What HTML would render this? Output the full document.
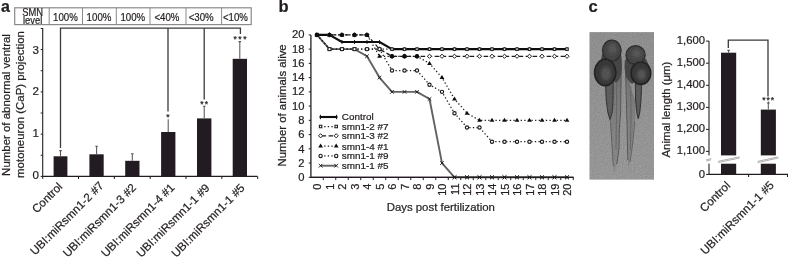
<!DOCTYPE html>
<html lang="en"><head><meta charset="utf-8"><title>Figure</title>
<style>html,body{margin:0;padding:0;background:#fff;}body{width:788px;height:260px;overflow:hidden;}svg{display:block;}text{font-family:"Liberation Sans", Arial, Helvetica, sans-serif;fill:#231f20;stroke:#231f20;stroke-width:0.22px;}</style>
</head><body>
<svg width="788" height="260" viewBox="0 0 788 260">
<defs>
<filter id="b1" x="-20%" y="-20%" width="140%" height="140%"><feGaussianBlur stdDeviation="0.45"/></filter>
<filter id="b2" x="-30%" y="-30%" width="160%" height="160%"><feGaussianBlur stdDeviation="1.6"/></filter>
<filter id="soft" x="-5%" y="-5%" width="110%" height="110%"><feGaussianBlur stdDeviation="0.35"/></filter>
<filter id="noise" x="0" y="0" width="100%" height="100%"><feTurbulence type="fractalNoise" baseFrequency="0.9" numOctaves="2" seed="3" result="n"/><feColorMatrix type="matrix" values="0 0 0 0 0  0 0 0 0 0  0 0 0 0 0  0.5 0.5 0 0 -0.32"/></filter>
<clipPath id="pc"><rect x="589.3" y="32.1" width="64.7" height="147.7"/></clipPath>
<linearGradient id="tg" gradientUnits="userSpaceOnUse" x1="0" y1="58" x2="0" y2="172"><stop offset="0" stop-color="#6e6e6e"/><stop offset="0.3" stop-color="#7e7e7e"/><stop offset="0.6" stop-color="#888"/><stop offset="1" stop-color="#909090"/></linearGradient>
<linearGradient id="pbg" x1="0" y1="0" x2="0" y2="1"><stop offset="0" stop-color="#969696"/><stop offset="1" stop-color="#9f9f9f"/></linearGradient>
</defs>
<rect width="788" height="260" fill="#fff"/>
<g filter="url(#soft)">
<g id="panel-a">
<text x="1.0" y="12.3" font-size="16" font-weight="bold" fill="#000">a</text>
<rect x="14.7" y="7.8" width="236.5" height="16.8" fill="none" stroke="#8a8a8a" stroke-width="1.2"/>
<line x1="49.2" y1="7.8" x2="49.2" y2="24.6" stroke="#8a8a8a" stroke-width="1"/>
<line x1="82.5" y1="7.8" x2="82.5" y2="24.6" stroke="#8a8a8a" stroke-width="1"/>
<line x1="116.3" y1="7.8" x2="116.3" y2="24.6" stroke="#8a8a8a" stroke-width="1"/>
<line x1="150.0" y1="7.8" x2="150.0" y2="24.6" stroke="#8a8a8a" stroke-width="1"/>
<line x1="186.0" y1="7.8" x2="186.0" y2="24.6" stroke="#8a8a8a" stroke-width="1"/>
<line x1="221.6" y1="7.8" x2="221.6" y2="24.6" stroke="#8a8a8a" stroke-width="1"/>
<text transform="translate(32.6 15.9) scale(0.885 1)" font-size="10.6" text-anchor="middle">SMN</text>
<text transform="translate(32.6 24.0) scale(0.885 1)" font-size="10.6" text-anchor="middle">level</text>
<text transform="translate(65.4 20.8) scale(0.88 1)" font-size="11" text-anchor="middle">100%</text>
<text transform="translate(99.0 20.8) scale(0.88 1)" font-size="11" text-anchor="middle">100%</text>
<text transform="translate(132.8 20.8) scale(0.88 1)" font-size="11" text-anchor="middle">100%</text>
<text transform="translate(166.9 20.8) scale(0.88 1)" font-size="11" text-anchor="middle">&lt;40%</text>
<text transform="translate(201.2 20.8) scale(0.88 1)" font-size="11" text-anchor="middle">&lt;30%</text>
<text transform="translate(235.4 20.8) scale(0.88 1)" font-size="11" text-anchor="middle">&lt;10%</text>
<path d="M42.7 28 V176.4 H257.5" fill="none" stroke="#231f20" stroke-width="1.1"/>
<path d="M42.7 176.40 h-2 M42.7 155.27 h-2 M42.7 134.13 h-2 M42.7 113.00 h-2 M42.7 91.86 h-2 M42.7 70.72 h-2 M42.7 49.59 h-2 M42.7 28.45 h-2 M42.70 176.4 v2.6 M78.53 176.4 v2.6 M114.36 176.4 v2.6 M150.19 176.4 v2.6 M186.02 176.4 v2.6 M221.85 176.4 v2.6 M257.68 176.4 v2.6 " fill="none" stroke="#231f20" stroke-width="1"/>
<text x="39" y="178.9" font-size="11.6" text-anchor="end">0</text>
<text x="39" y="137.1" font-size="11.6" text-anchor="end">1</text>
<text x="39" y="95.4" font-size="11.6" text-anchor="end">2</text>
<text x="39" y="53.6" font-size="11.6" text-anchor="end">3</text>
<text transform="translate(9.7 105.0) rotate(-90)" font-size="11.45" text-anchor="middle">Number of abnormal ventral</text>
<text transform="translate(23.5 104.5) rotate(-90)" font-size="11.45" text-anchor="middle">motoneuron (CaP) projection</text>
<rect x="53.6" y="156.3" width="13.8" height="20.1" fill="#231f20"/>
<path d="M60.5 156.3 V150.6 M59.2 150.6 h2.6" fill="none" stroke="#555" stroke-width="1.05"/>
<rect x="89.4" y="154.3" width="14.3" height="22.1" fill="#231f20"/>
<path d="M96.6 154.3 V146.3 M95.3 146.3 h2.6" fill="none" stroke="#555" stroke-width="1.05"/>
<rect x="125.2" y="160.8" width="14.3" height="15.6" fill="#231f20"/>
<path d="M132.3 160.8 V153.8 M131.0 153.8 h2.6" fill="none" stroke="#555" stroke-width="1.05"/>
<rect x="161.1" y="132.0" width="14.3" height="44.4" fill="#231f20"/>
<path d="M168.2 132.0 V119.2" fill="none" stroke="#555" stroke-width="1.05"/>
<rect x="197.0" y="118.4" width="14.4" height="58.0" fill="#231f20"/>
<path d="M204.2 118.4 V106.3 M202.9 106.3 h2.6" fill="none" stroke="#555" stroke-width="1.05"/>
<rect x="232.7" y="58.8" width="14.3" height="117.6" fill="#231f20"/>
<path d="M239.8 58.8 V41.6 M238.5 41.6 h2.6" fill="none" stroke="#555" stroke-width="1.05"/>
<path d="M60.5 148 V28.2 H240.4 V34 M168 28.2 V111.5 M204.2 28.2 V99.5" fill="none" stroke="#3a3a3a" stroke-width="1.3"/>
<text x="168.5" y="119.5" font-size="8.6" text-anchor="middle" letter-spacing="1.1">*</text>
<text x="204.8" y="106.7" font-size="8.6" text-anchor="middle" letter-spacing="1.1">**</text>
<text x="240.8" y="41.7" font-size="8.6" text-anchor="middle" letter-spacing="1.5">***</text>
<text transform="translate(63.1 187.4) rotate(-45)" font-size="11.6" text-anchor="end">Control</text>
<text transform="translate(104.3 186.5) rotate(-45)" font-size="11.6" text-anchor="end">UBI:miRsmn1-2 #7</text>
<text transform="translate(136.9 188.5) rotate(-45)" font-size="11.6" text-anchor="end">UBI:miRsmn1-3 #2</text>
<text transform="translate(175.2 188.4) rotate(-45)" font-size="11.6" text-anchor="end">UBI:miRsmn1-4 #1</text>
<text transform="translate(210.4 188.7) rotate(-45)" font-size="11.6" text-anchor="end">UBI:miRsmn1-1 #9</text>
<text transform="translate(245.4 188.7) rotate(-45)" font-size="11.6" text-anchor="end">UBI:miRsmn1-1 #5</text>
</g>
<g id="panel-b">
<text x="278.4" y="12.2" font-size="16.5" font-weight="bold" fill="#000">b</text>
<path d="M310.9 34.9 V177.3 H573.6" fill="none" stroke="#231f20" stroke-width="1.3"/>
<path d="M310.9 177.30 h-2.2 M310.9 163.06 h-2.2 M310.9 148.82 h-2.2 M310.9 134.58 h-2.2 M310.9 120.34 h-2.2 M310.9 106.10 h-2.2 M310.9 91.86 h-2.2 M310.9 77.62 h-2.2 M310.9 63.38 h-2.2 M310.9 49.14 h-2.2 M310.9 34.90 h-2.2 M323.25 177.3 v2.8 M335.75 177.3 v2.8 M348.25 177.3 v2.8 M360.75 177.3 v2.8 M373.25 177.3 v2.8 M385.75 177.3 v2.8 M398.25 177.3 v2.8 M410.75 177.3 v2.8 M423.25 177.3 v2.8 M435.75 177.3 v2.8 M448.25 177.3 v2.8 M460.75 177.3 v2.8 M473.25 177.3 v2.8 M485.75 177.3 v2.8 M498.25 177.3 v2.8 M510.75 177.3 v2.8 M523.25 177.3 v2.8 M535.75 177.3 v2.8 M548.25 177.3 v2.8 M560.75 177.3 v2.8 M573.25 177.3 v2.8 " fill="none" stroke="#231f20" stroke-width="1"/>
<text x="304.4" y="181.2" font-size="11.2" text-anchor="end">0</text>
<text x="304.4" y="166.9" font-size="11.2" text-anchor="end">2</text>
<text x="304.4" y="152.6" font-size="11.2" text-anchor="end">4</text>
<text x="304.4" y="138.3" font-size="11.2" text-anchor="end">6</text>
<text x="304.4" y="124.0" font-size="11.2" text-anchor="end">8</text>
<text x="304.4" y="109.7" font-size="11.2" text-anchor="end">10</text>
<text x="304.4" y="95.4" font-size="11.2" text-anchor="end">12</text>
<text x="304.4" y="81.1" font-size="11.2" text-anchor="end">14</text>
<text x="304.4" y="66.8" font-size="11.2" text-anchor="end">16</text>
<text x="304.4" y="52.5" font-size="11.2" text-anchor="end">18</text>
<text x="304.4" y="38.2" font-size="11.2" text-anchor="end">20</text>
<text transform="translate(321.3 183.5) rotate(-90)" font-size="11" text-anchor="end">0</text>
<text transform="translate(333.8 183.5) rotate(-90)" font-size="11" text-anchor="end">1</text>
<text transform="translate(346.3 183.5) rotate(-90)" font-size="11" text-anchor="end">2</text>
<text transform="translate(358.8 183.5) rotate(-90)" font-size="11" text-anchor="end">3</text>
<text transform="translate(371.3 183.5) rotate(-90)" font-size="11" text-anchor="end">4</text>
<text transform="translate(383.8 183.5) rotate(-90)" font-size="11" text-anchor="end">5</text>
<text transform="translate(396.3 183.5) rotate(-90)" font-size="11" text-anchor="end">6</text>
<text transform="translate(408.8 183.5) rotate(-90)" font-size="11" text-anchor="end">7</text>
<text transform="translate(421.3 183.5) rotate(-90)" font-size="11" text-anchor="end">8</text>
<text transform="translate(433.8 183.5) rotate(-90)" font-size="11" text-anchor="end">9</text>
<text transform="translate(446.3 183.5) rotate(-90)" font-size="11" text-anchor="end">10</text>
<text transform="translate(458.8 183.5) rotate(-90)" font-size="11" text-anchor="end">11</text>
<text transform="translate(471.3 183.5) rotate(-90)" font-size="11" text-anchor="end">12</text>
<text transform="translate(483.8 183.5) rotate(-90)" font-size="11" text-anchor="end">13</text>
<text transform="translate(496.3 183.5) rotate(-90)" font-size="11" text-anchor="end">14</text>
<text transform="translate(508.8 183.5) rotate(-90)" font-size="11" text-anchor="end">15</text>
<text transform="translate(521.3 183.5) rotate(-90)" font-size="11" text-anchor="end">16</text>
<text transform="translate(533.8 183.5) rotate(-90)" font-size="11" text-anchor="end">17</text>
<text transform="translate(546.3 183.5) rotate(-90)" font-size="11" text-anchor="end">18</text>
<text transform="translate(558.8 183.5) rotate(-90)" font-size="11" text-anchor="end">19</text>
<text transform="translate(571.3 183.5) rotate(-90)" font-size="11" text-anchor="end">20</text>
<text transform="translate(285.6 105.4) rotate(-90)" font-size="11.4" text-anchor="middle">Number of animals alive</text>
<text x="440.8" y="211.4" font-size="11.4" text-anchor="middle">Days post fertilization</text>
<polyline points="317.0,34.9 329.5,49.1 342.0,49.1 354.5,49.1 367.0,56.3 379.5,77.6 392.0,91.9 404.5,91.9 417.0,91.9 429.5,99.0 442.0,163.1 454.5,177.3 467.0,177.3 479.5,177.3 492.0,177.3 504.5,177.3 517.0,177.3 529.5,177.3 542.0,177.3 554.5,177.3 567.0,177.3" fill="none" stroke="#626262" stroke-width="1.9" stroke-linejoin="round"/>
<path d="M315.20 33.10 l3.6 3.6 m-3.6 0 l3.6 -3.6" fill="none" stroke="#1c1c1c" stroke-width="0.95"/>
<path d="M327.70 47.34 l3.6 3.6 m-3.6 0 l3.6 -3.6" fill="none" stroke="#1c1c1c" stroke-width="0.95"/>
<path d="M340.20 47.34 l3.6 3.6 m-3.6 0 l3.6 -3.6" fill="none" stroke="#1c1c1c" stroke-width="0.95"/>
<path d="M352.70 47.34 l3.6 3.6 m-3.6 0 l3.6 -3.6" fill="none" stroke="#1c1c1c" stroke-width="0.95"/>
<path d="M365.20 54.46 l3.6 3.6 m-3.6 0 l3.6 -3.6" fill="none" stroke="#1c1c1c" stroke-width="0.95"/>
<path d="M377.70 75.82 l3.6 3.6 m-3.6 0 l3.6 -3.6" fill="none" stroke="#1c1c1c" stroke-width="0.95"/>
<path d="M390.20 90.06 l3.6 3.6 m-3.6 0 l3.6 -3.6" fill="none" stroke="#1c1c1c" stroke-width="0.95"/>
<path d="M402.70 90.06 l3.6 3.6 m-3.6 0 l3.6 -3.6" fill="none" stroke="#1c1c1c" stroke-width="0.95"/>
<path d="M415.20 90.06 l3.6 3.6 m-3.6 0 l3.6 -3.6" fill="none" stroke="#1c1c1c" stroke-width="0.95"/>
<path d="M427.70 97.18 l3.6 3.6 m-3.6 0 l3.6 -3.6" fill="none" stroke="#1c1c1c" stroke-width="0.95"/>
<path d="M440.20 161.26 l3.6 3.6 m-3.6 0 l3.6 -3.6" fill="none" stroke="#1c1c1c" stroke-width="0.95"/>
<path d="M452.70 175.50 l3.6 3.6 m-3.6 0 l3.6 -3.6" fill="none" stroke="#1c1c1c" stroke-width="0.95"/>
<path d="M465.20 175.50 l3.6 3.6 m-3.6 0 l3.6 -3.6" fill="none" stroke="#1c1c1c" stroke-width="0.95"/>
<path d="M477.70 175.50 l3.6 3.6 m-3.6 0 l3.6 -3.6" fill="none" stroke="#1c1c1c" stroke-width="0.95"/>
<path d="M490.20 175.50 l3.6 3.6 m-3.6 0 l3.6 -3.6" fill="none" stroke="#1c1c1c" stroke-width="0.95"/>
<path d="M502.70 175.50 l3.6 3.6 m-3.6 0 l3.6 -3.6" fill="none" stroke="#1c1c1c" stroke-width="0.95"/>
<path d="M515.20 175.50 l3.6 3.6 m-3.6 0 l3.6 -3.6" fill="none" stroke="#1c1c1c" stroke-width="0.95"/>
<path d="M527.70 175.50 l3.6 3.6 m-3.6 0 l3.6 -3.6" fill="none" stroke="#1c1c1c" stroke-width="0.95"/>
<path d="M540.20 175.50 l3.6 3.6 m-3.6 0 l3.6 -3.6" fill="none" stroke="#1c1c1c" stroke-width="0.95"/>
<path d="M552.70 175.50 l3.6 3.6 m-3.6 0 l3.6 -3.6" fill="none" stroke="#1c1c1c" stroke-width="0.95"/>
<path d="M565.20 175.50 l3.6 3.6 m-3.6 0 l3.6 -3.6" fill="none" stroke="#1c1c1c" stroke-width="0.95"/>
<polyline points="317.0,34.9 329.5,49.1 342.0,49.1 354.5,49.1 367.0,49.1 379.5,49.1 392.0,70.5 404.5,70.5 417.0,70.5 429.5,84.7 442.0,91.9 454.5,113.2 467.0,127.5 479.5,127.5 492.0,141.7 504.5,141.7 517.0,141.7 529.5,141.7 542.0,141.7 554.5,141.7 567.0,141.7" fill="none" stroke="#1c1c1c" stroke-width="1.25" stroke-dasharray="1.3 2.3"/>
<polyline points="317.0,34.9 329.5,34.9 342.0,34.9 354.5,34.9 367.0,34.9 379.5,56.3 392.0,56.3 404.5,56.3 417.0,56.3 429.5,63.4 442.0,77.6 454.5,99.0 467.0,113.2 479.5,120.3 492.0,120.3 504.5,120.3 517.0,120.3 529.5,120.3 542.0,120.3 554.5,120.3 567.0,120.3" fill="none" stroke="#1c1c1c" stroke-width="1.25" stroke-dasharray="1.3 2.3"/>
<polyline points="317.0,34.9 329.5,34.9 342.0,34.9 354.5,34.9 367.0,34.9 379.5,49.1 392.0,56.3 404.5,56.3 417.0,56.3 429.5,56.3 442.0,56.3 454.5,56.3 467.0,56.3 479.5,56.3 492.0,56.3 504.5,56.3 517.0,56.3 529.5,56.3 542.0,56.3 554.5,56.3 567.0,56.3" fill="none" stroke="#1c1c1c" stroke-width="1.2" stroke-dasharray="4.5 2.5"/>
<polyline points="317.0,34.9 329.5,49.1 342.0,49.1 354.5,49.1 367.0,49.1 379.5,49.1 392.0,49.1 404.5,49.1 417.0,49.1 429.5,49.1 442.0,49.1 454.5,49.1 467.0,49.1 479.5,49.1 492.0,49.1 504.5,49.1 517.0,49.1 529.5,49.1 542.0,49.1 554.5,49.1 567.0,49.1" fill="none" stroke="#1c1c1c" stroke-width="1.25" stroke-dasharray="1.3 2.3"/>
<polyline points="317.0,34.9 329.5,34.9 342.0,42.0 354.5,42.0 367.0,42.0 379.5,42.0 392.0,49.1 404.5,49.1 417.0,49.1 429.5,49.1 442.0,49.1 454.5,49.1 467.0,49.1 479.5,49.1 492.0,49.1 504.5,49.1 517.0,49.1 529.5,49.1 542.0,49.1 554.5,49.1 567.0,49.1" fill="none" stroke="#111" stroke-width="2.1" stroke-linejoin="round"/>
<path d="M317.0 32.9 v4 M329.5 32.9 v4 M342.0 40.0 v4 M354.5 40.0 v4 M367.0 40.0 v4 M379.5 40.0 v4 M392.0 47.1 v4 M404.5 47.1 v4 M417.0 47.1 v4 M429.5 47.1 v4 M442.0 47.1 v4 M454.5 47.1 v4 M467.0 47.1 v4 M479.5 47.1 v4 M492.0 47.1 v4 M504.5 47.1 v4 M517.0 47.1 v4 M529.5 47.1 v4 M542.0 47.1 v4 M554.5 47.1 v4 M567.0 47.1 v4 " fill="none" stroke="#111" stroke-width="0.9"/>
<path d="M317.00 32.40 l2.4 4.0 h-4.8z" fill="#111"/>
<path d="M329.50 32.40 l2.4 4.0 h-4.8z" fill="#111"/>
<path d="M342.00 32.40 l2.4 4.0 h-4.8z" fill="#111"/>
<path d="M354.50 32.40 l2.4 4.0 h-4.8z" fill="#111"/>
<path d="M367.00 32.40 l2.4 4.0 h-4.8z" fill="#111"/>
<path d="M379.50 53.76 l2.4 4.0 h-4.8z" fill="#111"/>
<path d="M392.00 53.76 l2.4 4.0 h-4.8z" fill="#111"/>
<path d="M404.50 53.76 l2.4 4.0 h-4.8z" fill="#111"/>
<path d="M417.00 53.76 l2.4 4.0 h-4.8z" fill="#111"/>
<path d="M429.50 60.88 l2.4 4.0 h-4.8z" fill="#111"/>
<path d="M442.00 75.12 l2.4 4.0 h-4.8z" fill="#111"/>
<path d="M454.50 96.48 l2.4 4.0 h-4.8z" fill="#111"/>
<path d="M467.00 110.72 l2.4 4.0 h-4.8z" fill="#111"/>
<path d="M479.50 117.84 l2.4 4.0 h-4.8z" fill="#111"/>
<path d="M492.00 117.84 l2.4 4.0 h-4.8z" fill="#111"/>
<path d="M504.50 117.84 l2.4 4.0 h-4.8z" fill="#111"/>
<path d="M517.00 117.84 l2.4 4.0 h-4.8z" fill="#111"/>
<path d="M529.50 117.84 l2.4 4.0 h-4.8z" fill="#111"/>
<path d="M542.00 117.84 l2.4 4.0 h-4.8z" fill="#111"/>
<path d="M554.50 117.84 l2.4 4.0 h-4.8z" fill="#111"/>
<path d="M567.00 117.84 l2.4 4.0 h-4.8z" fill="#111"/>
<path d="M317.00 32.80 l2.1 2.1 l-2.1 2.1 l-2.1 -2.1z" fill="#fff" stroke="#1c1c1c" stroke-width="1.0"/>
<path d="M329.50 32.80 l2.1 2.1 l-2.1 2.1 l-2.1 -2.1z" fill="#fff" stroke="#1c1c1c" stroke-width="1.0"/>
<path d="M342.00 32.80 l2.1 2.1 l-2.1 2.1 l-2.1 -2.1z" fill="#fff" stroke="#1c1c1c" stroke-width="1.0"/>
<path d="M354.50 32.80 l2.1 2.1 l-2.1 2.1 l-2.1 -2.1z" fill="#fff" stroke="#1c1c1c" stroke-width="1.0"/>
<path d="M367.00 32.80 l2.1 2.1 l-2.1 2.1 l-2.1 -2.1z" fill="#fff" stroke="#1c1c1c" stroke-width="1.0"/>
<path d="M379.50 47.04 l2.1 2.1 l-2.1 2.1 l-2.1 -2.1z" fill="#fff" stroke="#1c1c1c" stroke-width="1.0"/>
<path d="M392.00 54.16 l2.1 2.1 l-2.1 2.1 l-2.1 -2.1z" fill="#fff" stroke="#1c1c1c" stroke-width="1.0"/>
<path d="M404.50 54.16 l2.1 2.1 l-2.1 2.1 l-2.1 -2.1z" fill="#fff" stroke="#1c1c1c" stroke-width="1.0"/>
<path d="M417.00 54.16 l2.1 2.1 l-2.1 2.1 l-2.1 -2.1z" fill="#fff" stroke="#1c1c1c" stroke-width="1.0"/>
<path d="M429.50 54.16 l2.1 2.1 l-2.1 2.1 l-2.1 -2.1z" fill="#fff" stroke="#1c1c1c" stroke-width="1.0"/>
<path d="M442.00 54.16 l2.1 2.1 l-2.1 2.1 l-2.1 -2.1z" fill="#fff" stroke="#1c1c1c" stroke-width="1.0"/>
<path d="M454.50 54.16 l2.1 2.1 l-2.1 2.1 l-2.1 -2.1z" fill="#fff" stroke="#1c1c1c" stroke-width="1.0"/>
<path d="M467.00 54.16 l2.1 2.1 l-2.1 2.1 l-2.1 -2.1z" fill="#fff" stroke="#1c1c1c" stroke-width="1.0"/>
<path d="M479.50 54.16 l2.1 2.1 l-2.1 2.1 l-2.1 -2.1z" fill="#fff" stroke="#1c1c1c" stroke-width="1.0"/>
<path d="M492.00 54.16 l2.1 2.1 l-2.1 2.1 l-2.1 -2.1z" fill="#fff" stroke="#1c1c1c" stroke-width="1.0"/>
<path d="M504.50 54.16 l2.1 2.1 l-2.1 2.1 l-2.1 -2.1z" fill="#fff" stroke="#1c1c1c" stroke-width="1.0"/>
<path d="M517.00 54.16 l2.1 2.1 l-2.1 2.1 l-2.1 -2.1z" fill="#fff" stroke="#1c1c1c" stroke-width="1.0"/>
<path d="M529.50 54.16 l2.1 2.1 l-2.1 2.1 l-2.1 -2.1z" fill="#fff" stroke="#1c1c1c" stroke-width="1.0"/>
<path d="M542.00 54.16 l2.1 2.1 l-2.1 2.1 l-2.1 -2.1z" fill="#fff" stroke="#1c1c1c" stroke-width="1.0"/>
<path d="M554.50 54.16 l2.1 2.1 l-2.1 2.1 l-2.1 -2.1z" fill="#fff" stroke="#1c1c1c" stroke-width="1.0"/>
<path d="M567.00 54.16 l2.1 2.1 l-2.1 2.1 l-2.1 -2.1z" fill="#fff" stroke="#1c1c1c" stroke-width="1.0"/>
<rect x="315.75" y="33.65" width="2.5" height="2.5" fill="#fff" stroke="#1c1c1c" stroke-width="1.05"/>
<rect x="328.25" y="47.89" width="2.5" height="2.5" fill="#fff" stroke="#1c1c1c" stroke-width="1.05"/>
<rect x="340.75" y="47.89" width="2.5" height="2.5" fill="#fff" stroke="#1c1c1c" stroke-width="1.05"/>
<rect x="353.25" y="47.89" width="2.5" height="2.5" fill="#fff" stroke="#1c1c1c" stroke-width="1.05"/>
<rect x="365.75" y="47.89" width="2.5" height="2.5" fill="#fff" stroke="#1c1c1c" stroke-width="1.05"/>
<rect x="378.25" y="47.89" width="2.5" height="2.5" fill="#fff" stroke="#1c1c1c" stroke-width="1.05"/>
<rect x="390.75" y="47.89" width="2.5" height="2.5" fill="#fff" stroke="#1c1c1c" stroke-width="1.05"/>
<rect x="403.25" y="47.89" width="2.5" height="2.5" fill="#fff" stroke="#1c1c1c" stroke-width="1.05"/>
<rect x="415.75" y="47.89" width="2.5" height="2.5" fill="#fff" stroke="#1c1c1c" stroke-width="1.05"/>
<rect x="428.25" y="47.89" width="2.5" height="2.5" fill="#fff" stroke="#1c1c1c" stroke-width="1.05"/>
<rect x="440.75" y="47.89" width="2.5" height="2.5" fill="#fff" stroke="#1c1c1c" stroke-width="1.05"/>
<rect x="453.25" y="47.89" width="2.5" height="2.5" fill="#fff" stroke="#1c1c1c" stroke-width="1.05"/>
<rect x="465.75" y="47.89" width="2.5" height="2.5" fill="#fff" stroke="#1c1c1c" stroke-width="1.05"/>
<rect x="478.25" y="47.89" width="2.5" height="2.5" fill="#fff" stroke="#1c1c1c" stroke-width="1.05"/>
<rect x="490.75" y="47.89" width="2.5" height="2.5" fill="#fff" stroke="#1c1c1c" stroke-width="1.05"/>
<rect x="503.25" y="47.89" width="2.5" height="2.5" fill="#fff" stroke="#1c1c1c" stroke-width="1.05"/>
<rect x="515.75" y="47.89" width="2.5" height="2.5" fill="#fff" stroke="#1c1c1c" stroke-width="1.05"/>
<rect x="528.25" y="47.89" width="2.5" height="2.5" fill="#fff" stroke="#1c1c1c" stroke-width="1.05"/>
<rect x="540.75" y="47.89" width="2.5" height="2.5" fill="#fff" stroke="#1c1c1c" stroke-width="1.05"/>
<rect x="553.25" y="47.89" width="2.5" height="2.5" fill="#fff" stroke="#1c1c1c" stroke-width="1.05"/>
<rect x="565.75" y="47.89" width="2.5" height="2.5" fill="#fff" stroke="#1c1c1c" stroke-width="1.05"/>
<circle cx="317.00" cy="34.90" r="1.65" fill="#fff" stroke="#1c1c1c" stroke-width="1.15"/>
<circle cx="329.50" cy="49.14" r="1.65" fill="#fff" stroke="#1c1c1c" stroke-width="1.15"/>
<circle cx="342.00" cy="49.14" r="1.65" fill="#fff" stroke="#1c1c1c" stroke-width="1.15"/>
<circle cx="354.50" cy="49.14" r="1.65" fill="#fff" stroke="#1c1c1c" stroke-width="1.15"/>
<circle cx="367.00" cy="49.14" r="1.65" fill="#fff" stroke="#1c1c1c" stroke-width="1.15"/>
<circle cx="379.50" cy="49.14" r="1.65" fill="#fff" stroke="#1c1c1c" stroke-width="1.15"/>
<circle cx="392.00" cy="70.50" r="1.65" fill="#fff" stroke="#1c1c1c" stroke-width="1.15"/>
<circle cx="404.50" cy="70.50" r="1.65" fill="#fff" stroke="#1c1c1c" stroke-width="1.15"/>
<circle cx="417.00" cy="70.50" r="1.65" fill="#fff" stroke="#1c1c1c" stroke-width="1.15"/>
<circle cx="429.50" cy="84.74" r="1.65" fill="#fff" stroke="#1c1c1c" stroke-width="1.15"/>
<circle cx="442.00" cy="91.86" r="1.65" fill="#fff" stroke="#1c1c1c" stroke-width="1.15"/>
<circle cx="454.50" cy="113.22" r="1.65" fill="#fff" stroke="#1c1c1c" stroke-width="1.15"/>
<circle cx="467.00" cy="127.46" r="1.65" fill="#fff" stroke="#1c1c1c" stroke-width="1.15"/>
<circle cx="479.50" cy="127.46" r="1.65" fill="#fff" stroke="#1c1c1c" stroke-width="1.15"/>
<circle cx="492.00" cy="141.70" r="1.65" fill="#fff" stroke="#1c1c1c" stroke-width="1.15"/>
<circle cx="504.50" cy="141.70" r="1.65" fill="#fff" stroke="#1c1c1c" stroke-width="1.15"/>
<circle cx="517.00" cy="141.70" r="1.65" fill="#fff" stroke="#1c1c1c" stroke-width="1.15"/>
<circle cx="529.50" cy="141.70" r="1.65" fill="#fff" stroke="#1c1c1c" stroke-width="1.15"/>
<circle cx="542.00" cy="141.70" r="1.65" fill="#fff" stroke="#1c1c1c" stroke-width="1.15"/>
<circle cx="554.50" cy="141.70" r="1.65" fill="#fff" stroke="#1c1c1c" stroke-width="1.15"/>
<circle cx="567.00" cy="141.70" r="1.65" fill="#fff" stroke="#1c1c1c" stroke-width="1.15"/>
<circle cx="317.0" cy="34.9" r="2.2" fill="#111"/>
<circle cx="329.5" cy="34.9" r="2.2" fill="#111"/>
<circle cx="342.0" cy="34.9" r="2.2" fill="#111"/>
<circle cx="354.5" cy="34.9" r="2.2" fill="#111"/>
<circle cx="367.0" cy="34.9" r="2.2" fill="#111"/>
<circle cx="392.0" cy="56.3" r="2.2" fill="#111"/>
<circle cx="404.5" cy="56.3" r="2.2" fill="#111"/>
<circle cx="417.0" cy="56.3" r="2.2" fill="#111"/>
<path d="M310.9 177.3 H573.6" fill="none" stroke="#231f20" stroke-width="1.2"/>
<path d="M452.70 175.50 l3.6 3.6 m-3.6 0 l3.6 -3.6" fill="none" stroke="#1c1c1c" stroke-width="0.95"/>
<path d="M465.20 175.50 l3.6 3.6 m-3.6 0 l3.6 -3.6" fill="none" stroke="#1c1c1c" stroke-width="0.95"/>
<path d="M477.70 175.50 l3.6 3.6 m-3.6 0 l3.6 -3.6" fill="none" stroke="#1c1c1c" stroke-width="0.95"/>
<path d="M490.20 175.50 l3.6 3.6 m-3.6 0 l3.6 -3.6" fill="none" stroke="#1c1c1c" stroke-width="0.95"/>
<path d="M502.70 175.50 l3.6 3.6 m-3.6 0 l3.6 -3.6" fill="none" stroke="#1c1c1c" stroke-width="0.95"/>
<path d="M515.20 175.50 l3.6 3.6 m-3.6 0 l3.6 -3.6" fill="none" stroke="#1c1c1c" stroke-width="0.95"/>
<path d="M527.70 175.50 l3.6 3.6 m-3.6 0 l3.6 -3.6" fill="none" stroke="#1c1c1c" stroke-width="0.95"/>
<path d="M540.20 175.50 l3.6 3.6 m-3.6 0 l3.6 -3.6" fill="none" stroke="#1c1c1c" stroke-width="0.95"/>
<path d="M552.70 175.50 l3.6 3.6 m-3.6 0 l3.6 -3.6" fill="none" stroke="#1c1c1c" stroke-width="0.95"/>
<path d="M565.20 175.50 l3.6 3.6 m-3.6 0 l3.6 -3.6" fill="none" stroke="#1c1c1c" stroke-width="0.95"/>
<text x="341.8" y="119.8" font-size="9.9">Control</text>
<text x="341.8" y="130.0" font-size="9.9">smn1-2 #7</text>
<text x="341.8" y="139.3" font-size="9.9">smn1-3 #2</text>
<text x="341.8" y="149.5" font-size="9.9">smn1-4 #1</text>
<text x="341.8" y="159.4" font-size="9.9">smn1-1 #9</text>
<text x="341.8" y="169.2" font-size="9.9">smn1-1 #5</text>
<path d="M319.6 117.0 H337.4" stroke="#111" stroke-width="2.1"/><path d="M320.4 114.8 v4.4 M336.6 114.8 v4.4" stroke="#111" stroke-width="1"/>
<path d="M320.6 126.5 H336.2" stroke="#1c1c1c" stroke-width="1.25" stroke-dasharray="1.3 2.3"/>
<rect x="319.35" y="125.25" width="2.5" height="2.5" fill="#fff" stroke="#1c1c1c" stroke-width="1.05"/>
<rect x="334.95" y="125.25" width="2.5" height="2.5" fill="#fff" stroke="#1c1c1c" stroke-width="1.05"/>
<path d="M321.6 135.8 H336.2" stroke="#1c1c1c" stroke-width="1.2" stroke-dasharray="4.5 2.5"/>
<path d="M320.60 133.70 l2.1 2.1 l-2.1 2.1 l-2.1 -2.1z" fill="#fff" stroke="#1c1c1c" stroke-width="1.0"/>
<path d="M336.20 133.70 l2.1 2.1 l-2.1 2.1 l-2.1 -2.1z" fill="#fff" stroke="#1c1c1c" stroke-width="1.0"/>
<path d="M320.6 146.0 H336.2" stroke="#1c1c1c" stroke-width="1.25" stroke-dasharray="1.3 2.3"/>
<path d="M320.60 143.50 l2.4 4.0 h-4.8z" fill="#111"/>
<path d="M336.20 143.50 l2.4 4.0 h-4.8z" fill="#111"/>
<path d="M320.6 155.9 H336.2" stroke="#1c1c1c" stroke-width="1.25" stroke-dasharray="1.3 2.3"/>
<circle cx="320.60" cy="155.90" r="1.65" fill="#fff" stroke="#1c1c1c" stroke-width="1.15"/>
<circle cx="336.20" cy="155.90" r="1.65" fill="#fff" stroke="#1c1c1c" stroke-width="1.15"/>
<path d="M320.6 165.7 H336.2" stroke="#626262" stroke-width="1.9"/>
<path d="M318.80 163.90 l3.6 3.6 m-3.6 0 l3.6 -3.6" fill="none" stroke="#1c1c1c" stroke-width="0.95"/>
<path d="M334.40 163.90 l3.6 3.6 m-3.6 0 l3.6 -3.6" fill="none" stroke="#1c1c1c" stroke-width="0.95"/>
</g>
<g id="panel-c">
<text x="588.5" y="12.2" font-size="16.5" font-weight="bold" fill="#000">c</text>
<g clip-path="url(#pc)">
<rect x="589.3" y="32.1" width="64.7" height="147.7" fill="url(#pbg)"/>
<g filter="url(#b1)">
<path d="M616 58 L621.8 58 L621.2 90 L620.6 112 L619.3 130 L619 148 L616.5 165 L614.6 172 L613.6 172 L612.6 160 L612 148 L610.4 128 L609.5 118 L613.4 104 L613.4 86Z" fill="url(#tg)"/>
<path d="M624.4 60 L630 60 L630.4 88 L635.2 100 L635.4 118 L633.7 130 L632 148 L629.6 163 L628.9 166.5 L628 166.5 L627.8 148 L627.3 128 L627 100 L626.4 88Z" fill="url(#tg)"/>
<path d="M621.2 66 L620.6 112 L619.3 130 L619 148 L616.8 164" fill="none" stroke="#5c5c5c" stroke-width="1"/>
<path d="M610.6 122 L612.2 148 L613.4 166" fill="none" stroke="#646464" stroke-width="0.9"/>
<path d="M616.6 84 L616.4 120 L616 150" fill="none" stroke="#6a6a6a" stroke-width="0.9"/>
<path d="M625.4 66 L627.1 128 L627.8 160" fill="none" stroke="#5c5c5c" stroke-width="1"/>
<path d="M634.8 122 L632.4 146 L630 162" fill="none" stroke="#646464" stroke-width="0.9"/>
<path d="M630.8 86 L631 120 L630.4 150" fill="none" stroke="#6a6a6a" stroke-width="0.9"/>
<path d="M605.6 82 L613.2 82 L613 104 L612 113 L610 119.5 L608 113 L606.2 100Z" fill="#626262" stroke="#3a3a3a" stroke-width="1.1"/>
<path d="M635.4 82 L641.6 82 L641 100 L639.8 112 L638.2 119 L636.8 112 L635.6 100Z" fill="#626262" stroke="#3a3a3a" stroke-width="1.1"/>
<path d="M602 54 L621 54 C621.9 60 622 66 621.6 71 C621 77 619 80 616 83 L600 66 Z" fill="#484848"/>
<path d="M626.2 58 L646 59 L650 68 L632 84 C628 80 625.4 77 625 72 C624.2 66 624.6 62 626.2 58Z" fill="#484848"/>
<ellipse cx="611.8" cy="50.6" rx="9.3" ry="10.4" fill="#484848" stroke="#303030" stroke-width="1.3"/>
<ellipse cx="635.6" cy="55" rx="9.6" ry="9.4" fill="#484848" stroke="#303030" stroke-width="1.3"/>
<ellipse cx="605.2" cy="72.5" rx="10.6" ry="13.2" fill="#3a3a3a" stroke="#282828" stroke-width="1.6"/>
<ellipse cx="640.9" cy="73.2" rx="9.8" ry="11.2" fill="#3a3a3a" stroke="#282828" stroke-width="1.6"/>
</g>
<g filter="url(#b2)">
<ellipse cx="606" cy="73.5" rx="5" ry="7" fill="#585858"/>
<ellipse cx="641.5" cy="74.5" rx="4.5" ry="5.5" fill="#5a5a5a"/>
<ellipse cx="612.5" cy="49" rx="4.5" ry="5" fill="#5c5c5c"/>
<ellipse cx="636.5" cy="53.5" rx="4.5" ry="4.5" fill="#5c5c5c"/>
</g>
<rect x="589.3" y="32.1" width="64.7" height="147.7" filter="url(#noise)" opacity="0.3"/>
</g>
<path d="M709.0 41.1 V174.4 H788" fill="none" stroke="#231f20" stroke-width="1.1"/>
<path d="M709.0 41.1 h-3 M709.0 63.2 h-3 M709.0 85.3 h-3 M709.0 107.4 h-3 M709.0 129.4 h-3 M709.0 151.4 h-3 M709.0 174.4 h-3 M748.6 174.4 v2.6 M787.5 174.4 v2.6" fill="none" stroke="#231f20" stroke-width="1"/>
<text x="705.0" y="44.1" font-size="11.3" text-anchor="end">1,600</text>
<text x="705.0" y="66.2" font-size="11.3" text-anchor="end">1,500</text>
<text x="705.0" y="88.3" font-size="11.3" text-anchor="end">1,400</text>
<text x="705.0" y="110.4" font-size="11.3" text-anchor="end">1,300</text>
<text x="705.0" y="132.4" font-size="11.3" text-anchor="end">1,200</text>
<text x="705.0" y="154.4" font-size="11.3" text-anchor="end">1,100</text>
<text x="705.0" y="178.0" font-size="11.3" text-anchor="end">0</text>
<text transform="translate(670 109.6) rotate(-90)" font-size="11.4" text-anchor="middle">Animal length (μm)</text>
<rect x="721.0" y="52.7" width="15.2" height="121.7" fill="#231f20"/>
<path d="M728.6 52.7 V50.2 M727.2 50.2 h2.8" fill="none" stroke="#555" stroke-width="1.05"/>
<rect x="760.8" y="109.6" width="15.1" height="64.8" fill="#231f20"/>
<path d="M768.3 109.6 V103.0 M766.9 103.0 h2.8" fill="none" stroke="#555" stroke-width="1.05"/>
<path d="M728.3 48 V40.2 H768.0 V96.5" fill="none" stroke="#3a3a3a" stroke-width="1.3"/>
<path d="M768.4 101.5 V103" fill="none" stroke="#333" stroke-width="0.8"/>
<text x="768.7" y="102.9" font-size="8.6" text-anchor="middle" letter-spacing="1.0">***</text>
<rect x="704" y="155.4" width="84" height="8.3" fill="#fff"/>
<path d="M718.2 161.3 L739.7 156.8 M718.2 162.5 L739.7 158.0" stroke="#a6a6a6" stroke-width="0.9" fill="none"/>
<path d="M757.6 161.4 L778.4 156.8 M757.6 162.6 L778.4 158.0" stroke="#a6a6a6" stroke-width="0.9" fill="none"/>
<path d="M706.3 159.8 L711.2 158.6 M706.3 161.0 L711.2 159.8" stroke="#a6a6a6" stroke-width="0.9" fill="none"/>
<text transform="translate(731.0 186.3) rotate(-45)" font-size="11.6" text-anchor="end">Control</text>
<text transform="translate(774.6 186.0) rotate(-45)" font-size="11.6" text-anchor="end">UBI:miRsmn1-1 #5</text>
</g>
</g>
</svg>
</body></html>
